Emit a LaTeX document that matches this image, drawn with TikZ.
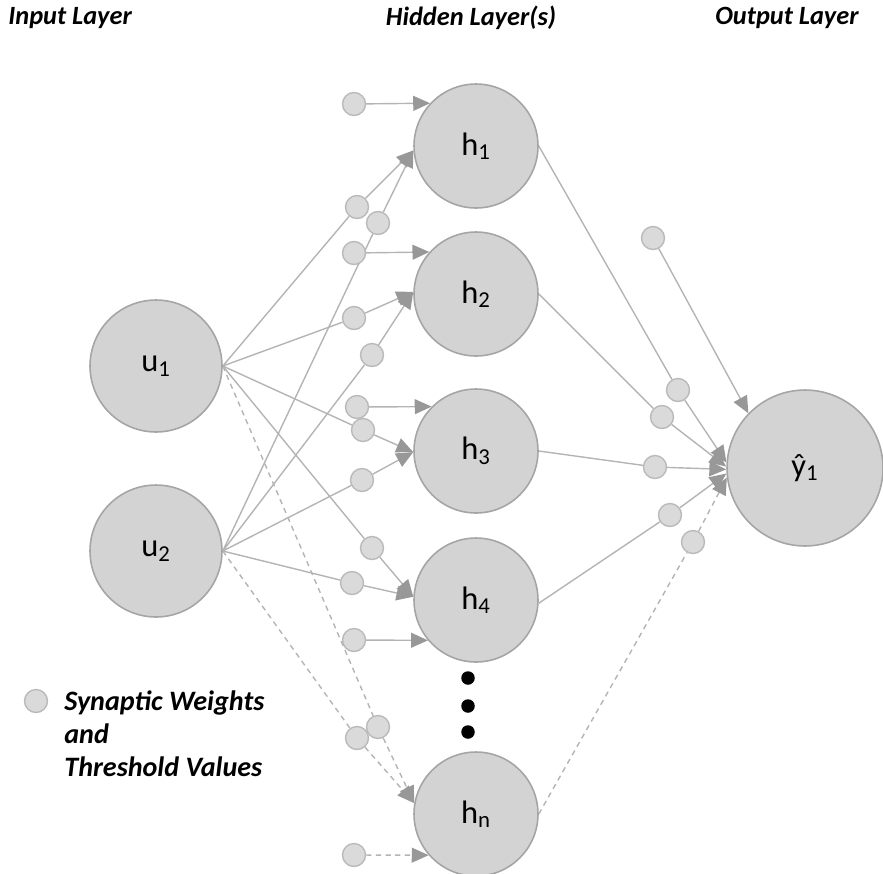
\documentclass[tikz,border=0pt]{standalone}
\usepackage{fontspec}
\setmainfont{Carlito}
\usepackage{xcolor}
\usepackage{tikz}
\usetikzlibrary{arrows.meta, backgrounds}

\definecolor{neuronfill}{RGB}{211,211,211}
\definecolor{neuronline}{RGB}{165,165,165}
\definecolor{wirecol}{RGB}{180,180,180}
\definecolor{tipcol}{RGB}{152,152,152}
\definecolor{weightfill}{RGB}{218,218,218}
\definecolor{weightline}{RGB}{186,186,186}

\begin{document}
\begin{tikzpicture}[x=0.02cm, y=-0.02cm,
    neuron/.style = {circle, draw=neuronline, fill=neuronfill, line width=0.9pt,
                     inner sep=0pt, font=\fontsize{18.5}{20}\selectfont},% big circles
    weight/.style = {circle, draw=weightline, fill=weightfill, line width=0.8pt,
                     minimum size=0.46cm, inner sep=0pt},% synaptic weights
    dotnode/.style = {circle, fill=black, minimum size=0.27cm, inner sep=0pt},
    heading/.style = {font=\fontsize{15}{17}\selectfont\bfseries\itshape, inner sep=0pt},
    wire/.style = {draw=wirecol, line width=0.8pt},
    arrow/.style = {wire, -{Triangle[length=9.6pt,width=8.5pt,color=tipcol]}},
    dashwire/.style = {wire, dash pattern=on 3pt off 2.5pt}
    ]
    \useasboundingbox (0,0) rectangle (883,873);
    % layer titles
    \node (inlab)  [heading, anchor=west] at (8,18)  {Input Layer};
    \node (hidlab) [heading] at (471,18) {Hidden Layer(s)};
    \node (outlab) [heading] at (787,18) {Output Layer};
    % neurons
    \node (u1) [neuron, minimum size=2.64cm] at (156,366) {u\textsubscript{1}};
    \node (u2) [neuron, minimum size=2.64cm] at (156,551) {u\textsubscript{2}};
    \node (h1) [neuron, minimum size=2.48cm] at (476,146) {h\textsubscript{1}};
    \node (h2) [neuron, minimum size=2.48cm] at (476,294) {h\textsubscript{2}};
    \node (h3) [neuron, minimum size=2.48cm] at (476,451) {h\textsubscript{3}};
    \node (h4) [neuron, minimum size=2.48cm] at (476,600) {h\textsubscript{4}};
    \node (hn) [neuron, minimum size=2.48cm] at (476,814) {h\textsubscript{n}};
    \node (y1) [neuron, minimum size=3.12cm] at (805,468) {ŷ\textsubscript{1}};
    \node (d1) [dotnode] at (468,678) {};
    \node (d2) [dotnode] at (468,706) {};
    \node (d3) [dotnode] at (468,732) {};
    % thresholds
    \node (b1) [weight] at (354,104) {};
    \node (b2) [weight] at (354,253) {};
    \node (b3) [weight] at (357,407) {};
    \node (b4) [weight] at (354,640) {};
    \node (bn) [weight] at (354,855) {};
    \node (by) [weight] at (653,238) {};
    % input -> hidden weights
    \node (w11) [weight] at (357,207) {};
    \node (w21) [weight] at (378,223) {};
    \node (w12) [weight] at (354,318) {};
    \node (w22) [weight] at (372,355) {};
    \node (w13) [weight] at (363,430) {};
    \node (w23) [weight] at (362,480) {};
    \node (w14) [weight] at (372,548) {};
    \node (w24) [weight] at (352,583) {};
    \node (w1n) [weight] at (378,727) {};
    \node (w2n) [weight] at (357,738) {};
    % hidden -> output weights
    \node (v1) [weight] at (678,390) {};
    \node (v2) [weight] at (662,417) {};
    \node (v3) [weight] at (655,467) {};
    \node (v4) [weight] at (670,515) {};
    \node (vn) [weight] at (693,542) {};
    % legend
    \node (key) [weight] at (36,701) {};
    \node (keytext) [anchor=west, align=left, inner sep=0pt,
                     font=\fontsize{16}{18.8}\selectfont\bfseries\itshape]
          at (64,734) {Synaptic Weights\\and\\Threshold Values};

    \begin{scope}[on background layer]
    \draw[arrow] (b1) -- (h1.137);
    \draw[arrow] (b2) -- (h2.138);
    \draw[arrow] (b3) -- (h3.135);
    \draw[arrow] (b4) -- (h4.220);
    \draw[arrow, dash pattern=on 3pt off 2.5pt] (bn) -- (hn.221);
    \draw[arrow] (by) -- (y1.136);

    \draw[wire] (u1.east) -- (w11);  \draw[arrow] (w11) -- (h1.184);
    \draw[wire] (u2.east) -- (w21);  \draw[arrow] (w21) -- (h1.184);
    \draw[wire] (u1.east) -- (w12);  \draw[arrow] (w12) -- (h2.178);
    \draw[wire] (u2.east) -- (w22);  \draw[arrow] (w22) -- (h2.178);
    \draw[wire] (u1.east) -- (w13);  \draw[arrow] (w13) -- (h3.181);
    \draw[wire] (u2.east) -- (w23);  \draw[arrow] (w23) -- (h3.181);
    \draw[wire] (u1.east) -- (w14);  \draw[arrow] (w14) -- (h4.177);
    \draw[wire] (u2.east) -- (w24);  \draw[arrow] (w24) -- (h4.177);
    \draw[dashwire] (u1.east) -- (w1n);
    \draw[arrow, dash pattern=on 3pt off 2.5pt] (w1n) -- (hn.170);
    \draw[dashwire] (u2.east) -- (w2n);
    \draw[arrow, dash pattern=on 3pt off 2.5pt] (w2n) -- (hn.170);

    \draw[wire] (h1.east) -- (v1);  \draw[arrow] (v1) -- (y1.176);
    \draw[wire] (h2.east) -- (v2);  \draw[arrow] (v2) -- (y1.179);
    \draw[wire] (h3.east) -- (v3);  \draw[arrow] (v3) -- (y1.181);
    \draw[wire] (h4.357) -- (v4);   \draw[arrow] (v4) -- (y1.184);
    \draw[dashwire] (hn.east) -- (vn);
    \draw[arrow, dash pattern=on 3pt off 2.5pt] (vn) -- (y1.187);
    \end{scope}
\end{tikzpicture}
\end{document}
